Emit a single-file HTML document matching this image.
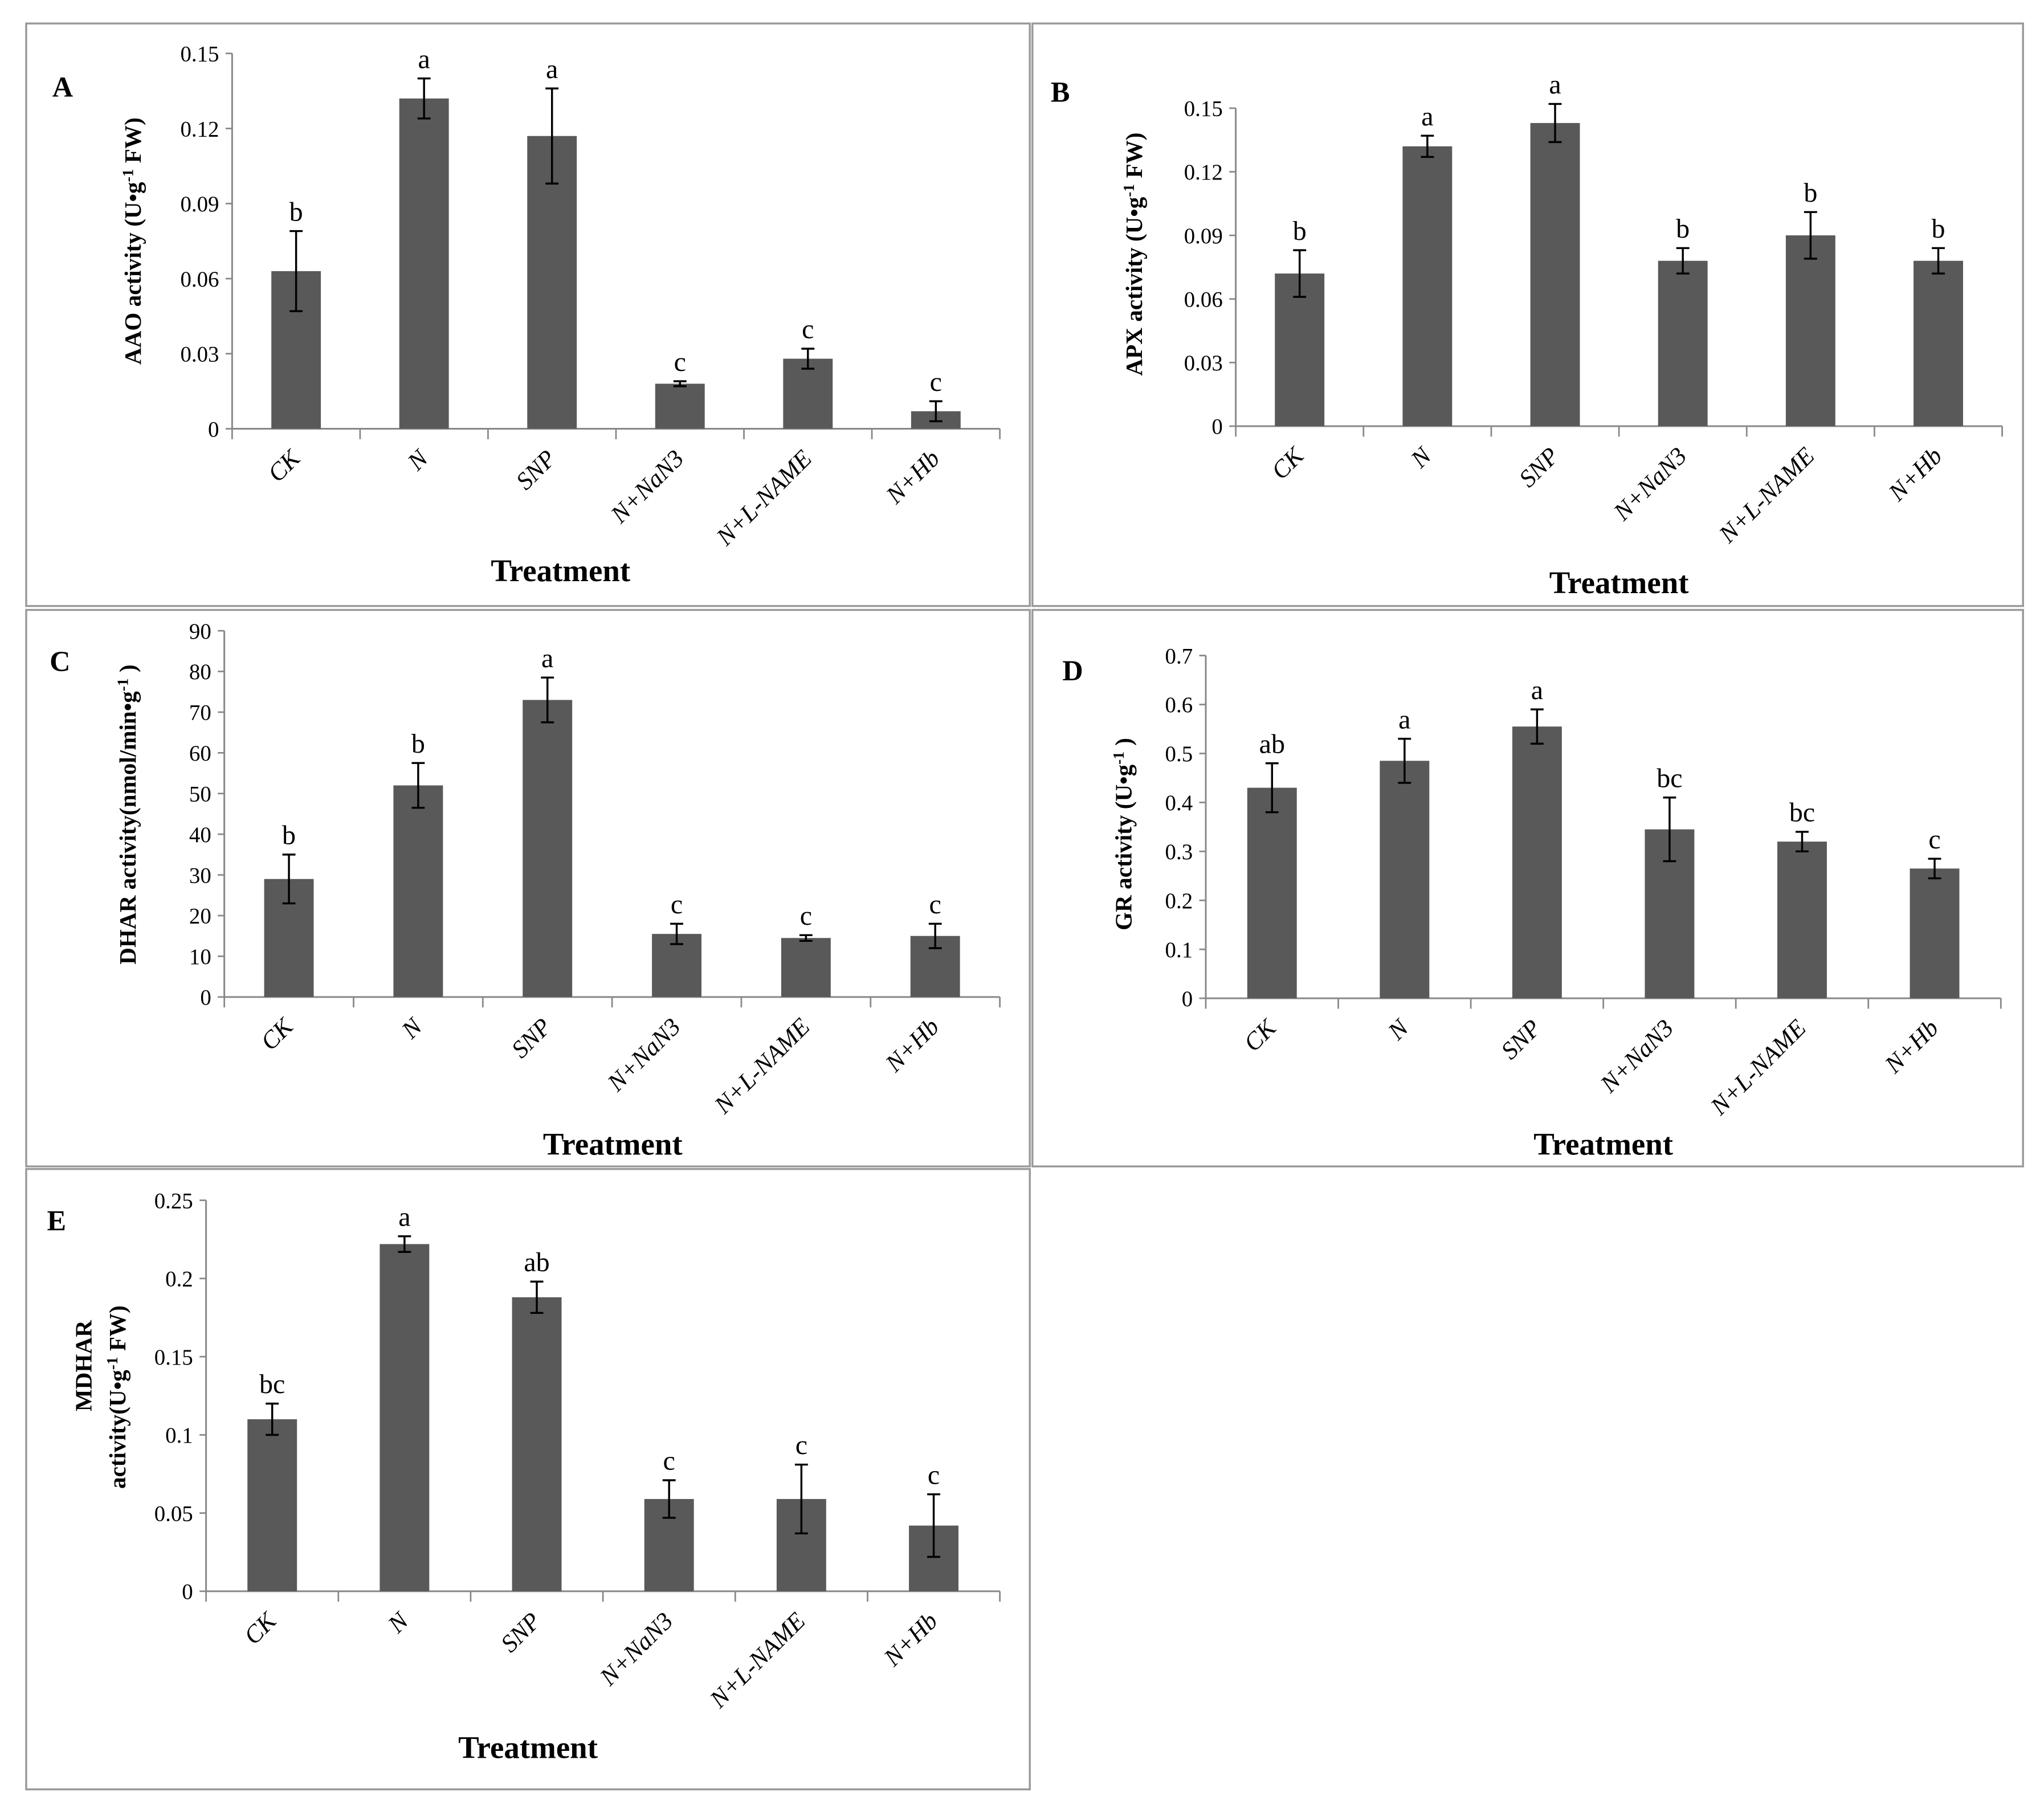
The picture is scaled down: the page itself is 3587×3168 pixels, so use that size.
<!DOCTYPE html>
<html><head><meta charset="utf-8">
<style>html,body{margin:0;padding:0;background:#fff}svg{display:block}
text{font-family:"Liberation Serif",serif}</style></head>
<body>
<svg id="fig" width="3587" height="3168" viewBox="0 0 1568 1385" xmlns="http://www.w3.org/2000/svg"></svg>
<script>
const categories=["CK","N","SNP","N+NaN3","N+L-NAME","N+Hb"];
const valsA=[0.063,0.132,0.117,0.018,0.028,0.007];
const errA=[0.016,0.008,0.019,0.001,0.004,0.004];
const letA=["b","a","a","c","c","c"];
const ticksA=[0,0.03,0.06,0.09,0.12,0.15];
const valsB=[0.072,0.132,0.143,0.078,0.090,0.078];
const errB=[0.011,0.005,0.009,0.006,0.011,0.006];
const letB=["b","a","a","b","b","b"];
const ticksB=[0,0.03,0.06,0.09,0.12,0.15];
const valsC=[29,52,73,15.5,14.5,15];
const errC=[6,5.5,5.5,2.5,0.7,3];
const letC=["b","b","a","c","c","c"];
const ticksC=[0,10,20,30,40,50,60,70,80,90];
const valsD=[0.43,0.485,0.555,0.345,0.32,0.265];
const errD=[0.05,0.045,0.035,0.065,0.02,0.02];
const letD=["ab","a","a","bc","bc","c"];
const ticksD=[0,0.1,0.2,0.3,0.4,0.5,0.6,0.7];
const valsE=[0.11,0.222,0.188,0.059,0.059,0.042];
const errE=[0.01,0.005,0.01,0.012,0.022,0.02];
const letE=["bc","a","ab","c","c","c"];
const ticksE=[0,0.05,0.1,0.15,0.2,0.25];

const NS="http://www.w3.org/2000/svg";
const svg=document.getElementById('fig');
function mk(tag,attrs,parent,txt){const e=document.createElementNS(NS,tag);for(const k in attrs)e.setAttribute(k,attrs[k]);if(txt!==undefined)e.textContent=txt;(parent||svg).appendChild(e);return e;}

function panel(p){
  const g=mk('g',{});
  
  
  const box=mk('rect',{x:p.box[0],y:p.box[1],width:p.box[2]-p.box[0],height:p.box[3]-p.box[1],fill:'none',stroke:'#999','stroke-width':1.5},g);
  
  
  const lt=mk('text',{x:p.lab[0],y:p.lab[1],'font-size':22,'font-weight':'bold'},g,p.id);
  
  
  const x0=p.ax[0],x1=p.ax[1],y0=p.ay[0],yt=p.ay[1];
  const max=p.ticks[p.ticks.length-1];
  const ys=v=>y0-(v/max)*(y0-yt);
  const n=categories.length, step=(x1-x0)/n;
  const xs=i=>x0+step*(i+0.5);
  const ya=mk('line',{x1:x0,y1:yt,x2:x0,y2:y0,stroke:'#888','stroke-width':1.3},g);
  
  
  const xa=mk('line',{x1:x0,y1:y0,x2:x1,y2:y0,stroke:'#888','stroke-width':1.3},g);
  
  
  p.ticks.forEach(t=>{
    mk('line',{x1:x0-5,y1:ys(t),x2:x0,y2:ys(t),stroke:'#888','stroke-width':1.2},g);
    const tl=mk('text',{x:x0-10,y:ys(t)+6,'font-size':17,'text-anchor':'end'},g,String(t));
    
    
  });
  for(let i=0;i<=n;i++) mk('line',{x1:x0+step*i,y1:y0,x2:x0+step*i,y2:y0+8,stroke:'#888','stroke-width':1.2},g);
  categories.forEach((c,i)=>{
    const x=xs(i),v=p.vals[i],e=p.err[i];
    const b=mk('rect',{x:x-19,y:ys(v),width:38,height:y0-ys(v),fill:'#595959'},g);
    
    
    const eg=mk('path',{d:`M${x} ${ys(v+e)}V${ys(v-e)}M${x-5} ${ys(v+e)}H${x+5}M${x-5} ${ys(v-e)}H${x+5}`,stroke:'#000','stroke-width':1.5,fill:'none'},g);
    
    
    const l=mk('text',{x:x,y:ys(v+e)-8,'font-size':21,'text-anchor':'middle'},g,p.lets[i]);
    
    
    const xl=mk('text',{x:x+4,y:y0+24,'font-size':19,'font-style':'italic','text-anchor':'end',transform:`rotate(-45 ${x+4} ${y0+24})`},g,c);
    
    
  });
  const tt=mk('text',{x:p.tt[0],y:p.tt[1],'font-size':24,'font-weight':'bold','text-anchor':'middle'},g,'Treatment');
  
  
  p.ylab.forEach(yl=>{
    const t=mk('text',{x:yl.x,y:yl.y,'font-size':18,'font-weight':'bold','text-anchor':'middle',transform:`rotate(-90 ${yl.x} ${yl.y})`},g);
    t.innerHTML=yl.html;
    
    
  });
}
const sup=s=>`<tspan dy="-6" font-size="12">${s}</tspan><tspan dy="6"> </tspan>`;
panel({id:'A',box:[20,18,790,465],lab:[40,74],ax:[178,767],ay:[329,41],ticks:ticksA,vals:valsA,err:errA,lets:letA,tt:[430,446],
  ylab:[{x:108,y:185,html:`AAO activity  (U•g${sup('-1')}FW)`}]});
panel({id:'B',box:[792,18,1552,465],lab:[806,78],ax:[948,1536],ay:[327,83],ticks:ticksB,vals:valsB,err:errB,lets:letB,tt:[1242,455],
  ylab:[{x:876,y:195,html:`APX activity  (U•g${sup('-1')}FW)`}]});
panel({id:'C',box:[20,468,790,895],lab:[38,515],ax:[172,767],ay:[765,484],ticks:ticksC,vals:valsC,err:errC,lets:letC,tt:[470,886],
  ylab:[{x:104,y:625,html:`DHAR activity(nmol/min•g${sup('-1')})`}]});
panel({id:'D',box:[792,468,1552,895],lab:[815,522],ax:[925,1535],ay:[766,503],ticks:ticksD,vals:valsD,err:errD,lets:letD,tt:[1230,886],
  ylab:[{x:868,y:640,html:`GR activity  (U•g${sup('-1')})`}]});
panel({id:'E',box:[20,897,790,1373],lab:[36,944],ax:[158,767],ay:[1221,921],ticks:ticksE,vals:valsE,err:errE,lets:letE,tt:[405,1349],
  ylab:[{x:70,y:1048,html:`MDHAR`},{x:96,y:1072,html:`activity(U•g${sup('-1')} FW)`}]});
</script>
</body></html>
